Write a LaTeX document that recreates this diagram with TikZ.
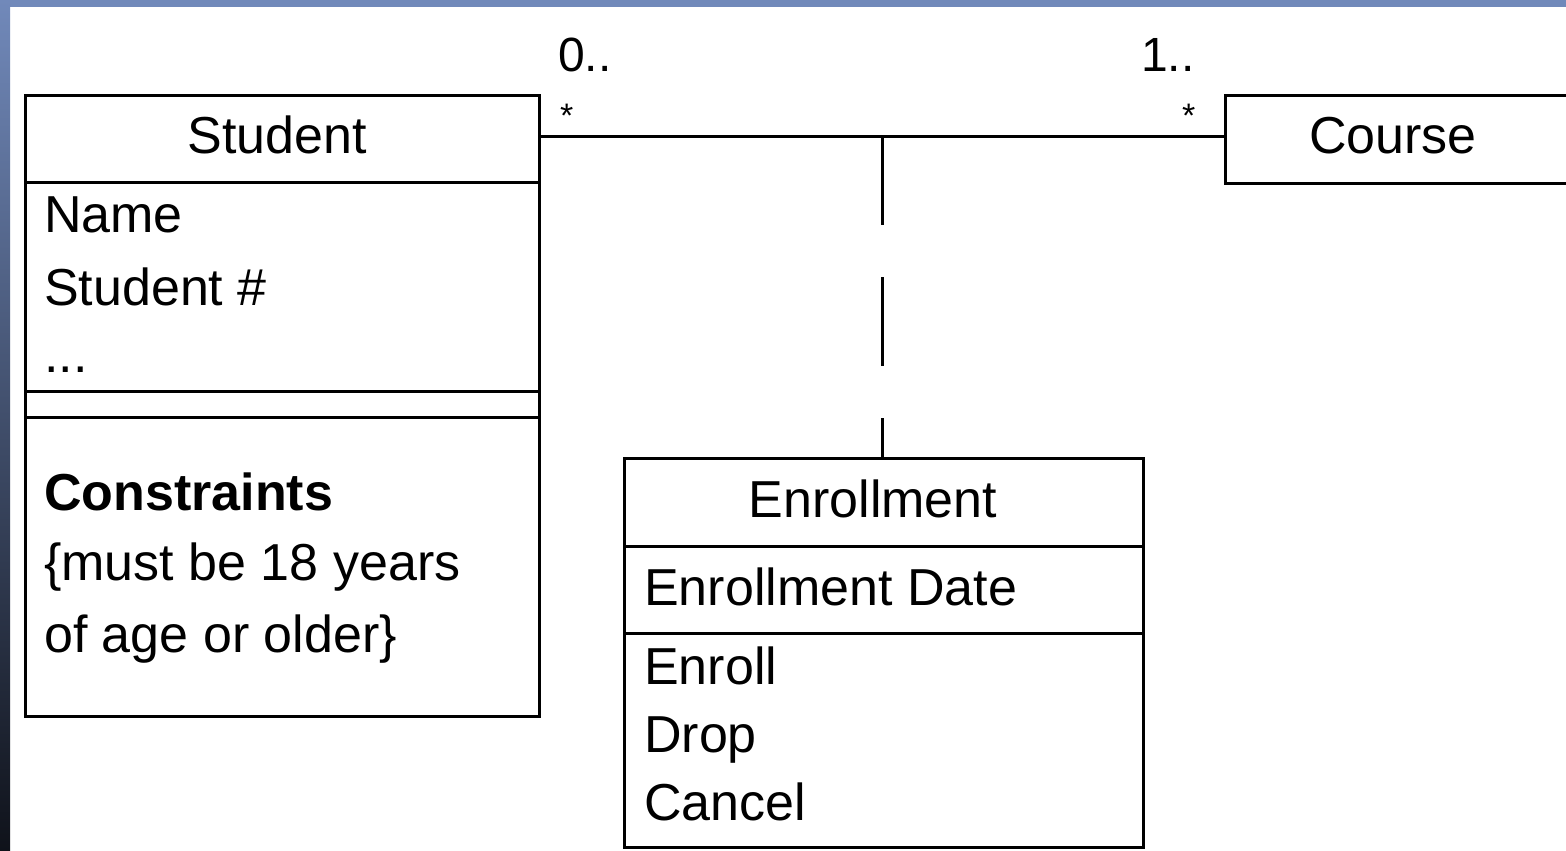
\documentclass[tikz,border=0pt]{standalone}
\usepackage{fontspec}
\setmainfont{Liberation Sans}
\definecolor{bandblue}{RGB}{113,137,186}
\definecolor{banddark}{RGB}{15,18,26}
\definecolor{bandmid}{RGB}{52,64,92}
\begin{document}
\begin{tikzpicture}[x=1pt,y=-1pt,
  box/.style={draw=black, line width=3pt, rectangle, inner sep=0pt, anchor=north west},
  lbl/.style={inner sep=0pt, anchor=base west, font=\fontsize{52}{60}\selectfont},
  ttl/.style={inner sep=0pt, anchor=base, font=\fontsize{52}{60}\selectfont},
  star/.style={inner sep=0pt, anchor=base west, font=\fontsize{34}{40}\selectfont},
  conn/.style={draw=black, line width=3pt},
  assocdash/.style={conn, dash pattern=on 89pt off 52pt}]
\useasboundingbox (0,0) rectangle (1566,851);
\clip (0,0) rectangle (1566,851);
% slide frame: blue band on top, shaded band on the left
\fill[white] (0,0) rectangle (1566,851);
\fill[bandblue] (0,0) rectangle (1566,7);
\shade[top color=bandblue, middle color=bandmid, bottom color=banddark] (0,0) rectangle (10,851);

% class boxes
\node[box, minimum width=514pt, minimum height=621pt] (student) at (24,94) {};
\node[box, minimum width=420pt, minimum height=88pt] (course) at (1224,94) {};
\node[box, minimum width=519pt, minimum height=389pt] (enroll) at (623,457) {};

% compartments
\draw[conn] ([yshift=-88pt]student.north west) -- ([yshift=-88pt]student.north east);
\draw[conn] ([yshift=-297pt]student.north west) -- ([yshift=-297pt]student.north east);
\draw[conn] ([yshift=-323pt]student.north west) -- ([yshift=-323pt]student.north east);
\draw[conn] ([yshift=-89pt]enroll.north west) -- ([yshift=-89pt]enroll.north east);
\draw[conn] ([yshift=-176pt]enroll.north west) -- ([yshift=-176pt]enroll.north east);

% Student
\node[ttl] (stitle) at (277,153) {Student};
\node[lbl] (sname) at (44,232) {Name};
\node[lbl] (snum) at (44,305) {Student \#};
\node[lbl] (sdots) at (44,372) {...};
\node[lbl, font=\fontsize{52}{60}\selectfont\bfseries] (scons) at (44,510) {Constraints};
\node[lbl] (scons1) at (44,580) {\{must be 18 years};
\node[lbl] (scons2) at (44,652) {of age or older\}};

% Course
\node[ttl] (ctitle) at (1393,153) {Course};

% Enrollment
\node[ttl] (etitle) at (873,517) {Enrollment};
\node[lbl] (edate) at (644,605) {Enrollment Date};
\node[lbl] (eop1) at (644,684) {Enroll};
\node[lbl] (eop2) at (644,752) {Drop};
\node[lbl] (eop3) at (644,820) {Cancel};

% association and association class link
\coordinate (aL) at ([yshift=-42pt]student.north east);
\draw[conn] (aL) -- (aL -| course.west);
\coordinate (jtop) at ([xshift=-1.5pt]aL -| enroll.north);
\coordinate (jbot) at ([xshift=-1.5pt]enroll.north);
\draw[assocdash] (jtop) -- (jbot);

% multiplicities
\node[lbl, font=\fontsize{48}{56}\selectfont] (m1) at (558,72) {0..};
\node[star] (m1s) at (560,127) {*};
\node[lbl, font=\fontsize{48}{56}\selectfont] (m2) at (1141,72) {1..};
\node[star] (m2s) at (1182,127) {*};
\end{tikzpicture}
\end{document}
